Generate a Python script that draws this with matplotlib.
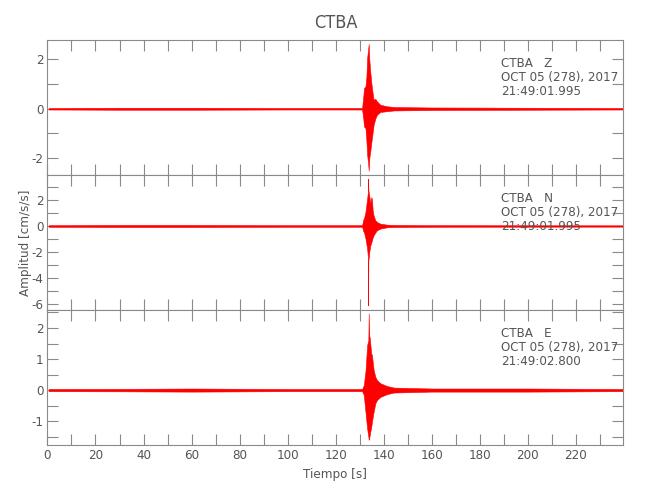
import matplotlib
matplotlib.use("Agg")
import matplotlib.pyplot as plt
from matplotlib.ticker import MultipleLocator

plt.rcParams['font.family'] = ['DejaVu Sans']
plt.rcParams['font.stretch'] = 'condensed'
plt.rcParams['axes.unicode_minus'] = False

# envelope of each trace (time in s, upper / lower amplitude in cm/s/s)
z_t  = [0.5, 30, 60, 100, 131.0, 131.5, 131.8, 132.4, 132.8, 133.1, 133.5, 133.75, 134.0, 134.4, 134.8, 135.1, 135.8, 136.5, 137.2, 138.6, 141.4, 144.2, 160, 200, 239.5]
z_hi = [0.03, 0.04, 0.04, 0.03, 0.03, 0.5, 0.84, 0.9, 1.3, 2.05, 2.4, 2.62, 2.0, 1.5, 1.1, 0.84, 0.36, 0.4, 0.3, 0.16, 0.1, 0.07, 0.05, 0.04, 0.03]
z_lo = [-0.03, -0.04, -0.04, -0.03, -0.03, -0.4, -0.72, -0.78, -1.3, -1.86, -2.2, -2.51, -2.0, -1.73, -1.4, -1.19, -0.65, -0.4, -0.24, -0.13, -0.1, -0.07, -0.05, -0.04, -0.03]

n_t  = [0.5, 30, 60, 100, 131.0, 131.5, 131.8, 132.4, 133.1, 133.4, 133.5, 133.6, 133.75, 134.0, 134.4, 134.8, 135.1, 135.4, 135.8, 136.5, 137.2, 138.6, 141.4, 144.2, 160, 239.5]
n_hi = [0.06, 0.08, 0.08, 0.06, 0.06, 0.5, 0.6, 1.08, 2.1, 2.6, 3.64, 2.8, 2.6, 2.3, 1.7, 2.2, 2.1, 1.2, 0.8, 0.44, 0.3, 0.18, 0.1, 0.08, 0.06, 0.05]
n_lo = [-0.06, -0.08, -0.08, -0.06, -0.06, -0.4, -0.5, -0.97, -1.74, -2.4, -6.1, -2.6, -2.5, -2.0, -1.5, -1.3, -1.1, -0.9, -0.72, -0.5, -0.33, -0.2, -0.1, -0.08, -0.06, -0.05]

e_t  = [0.5, 30, 60, 100, 131.0, 131.7, 132.4, 133.1, 133.6, 133.75, 133.9, 134.2, 134.4, 134.8, 135.1, 135.8, 136.5, 137.2, 138.6, 141.4, 144.2, 160, 200, 239.5]
e_hi = [0.035, 0.04, 0.05, 0.035, 0.035, 0.16, 0.6, 1.45, 1.6, 2.47, 1.8, 1.67, 1.5, 1.18, 1.13, 0.65, 0.43, 0.32, 0.22, 0.13, 0.08, 0.05, 0.05, 0.035]
e_lo = [-0.035, -0.04, -0.05, -0.035, -0.035, -0.16, -0.7, -1.24, -1.5, -1.6, -1.55, -1.45, -1.34, -1.2, -1.02, -0.7, -0.43, -0.32, -0.22, -0.13, -0.08, -0.05, -0.05, -0.035]

components = ["Z", "N", "E"]
start_times = ["21:49:01.995", "21:49:01.995", "21:49:02.800"]
station = "CTBA"
date_label = "OCT 05 (278), 2017"

traces = [(z_t, z_hi, z_lo), (n_t, n_hi, n_lo), (e_t, e_hi, e_lo)]
ylims = [(-2.68, 2.78), (-6.46, 3.92), (-1.77, 2.58)]
ymajor = [2, 2, 1]
yminor = [1, 1, 0.5]

grey = "#8a8a8a"
txt = "#555555"

fig = plt.figure(figsize=(6.5, 5), dpi=100)
left, width, h = 0.073, 0.885, 0.27
bottoms = [0.65, 0.38, 0.11]

for i, (t, hi, lo) in enumerate(traces):
    ax = fig.add_axes([left, bottoms[i], width, h])
    ax.fill_between(t, lo, hi, color="red", linewidth=0.4)
    ax.plot([t[0], t[-1]], [0, 0], color="red", linewidth=0.8)
    ax.set_xlim(0, 239.5)
    ax.set_ylim(*ylims[i])
    ax.xaxis.set_major_locator(MultipleLocator(20))
    ax.xaxis.set_minor_locator(MultipleLocator(10))
    ax.yaxis.set_major_locator(MultipleLocator(ymajor[i]))
    ax.yaxis.set_minor_locator(MultipleLocator(yminor[i]))
    ax.tick_params(which="both", direction="in", top=True, right=True,
                   length=8, width=0.8, color=grey, labelcolor=txt, labelsize=9.5, pad=3)
    for sp in ax.spines.values():
        sp.set_color(grey)
        sp.set_linewidth(0.8)
    if i < 2:
        ax.tick_params(labelbottom=False)
    ax.text(0.788, 0.875, f"{station}   {components[i]}\n{date_label}\n{start_times[i]}",
            transform=ax.transAxes, ha="left", va="top", fontsize=9.5,
            color=txt, linespacing=1.1)
    if i == 1:
        ax.set_ylabel("Amplitud [cm/s/s]", color=txt, fontsize=9.5)
        ax.yaxis.set_label_coords(-0.026, 0.5)
    if i == 2:
        ax.set_xlabel("Tiempo [s]", color=txt, fontsize=9.5, labelpad=4)

fig.text(0.517, 0.955, station, ha="center", va="center", fontsize=13, color=txt)

fig.savefig("out.png", dpi=100)
